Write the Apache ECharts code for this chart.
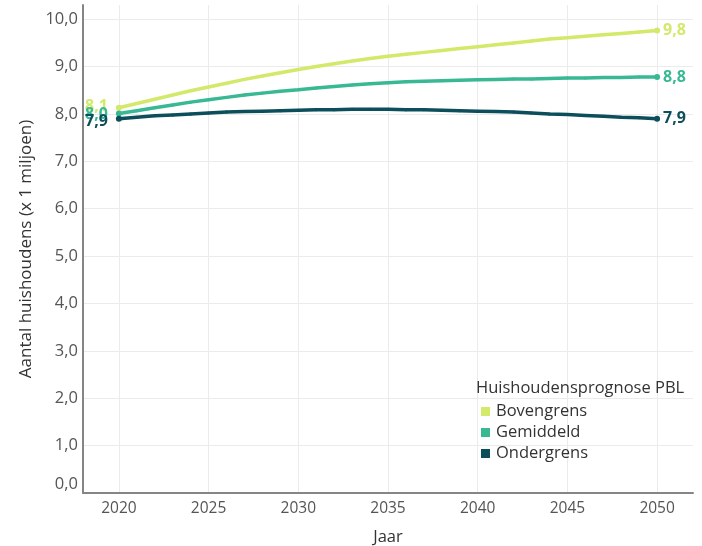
<!DOCTYPE html>
<html>
<head>
<meta charset="utf-8">
<script src="https://cdn.jsdelivr.net/npm/echarts@6/dist/echarts.min.js"></script>
<style>
  html, body { margin: 0; padding: 0; background: #fff; }
  #chart { width: 702px; height: 546px; }
</style>
</head>
<body>
<div id="chart"></div>
<script>
// Huishoudensprognose PBL, aantal huishoudens (x 1 miljoen) per jaar
const years = [2020, 2021, 2022, 2023, 2024, 2025, 2026, 2027, 2028, 2029, 2030,
               2031, 2032, 2033, 2034, 2035, 2036, 2037, 2038, 2039, 2040,
               2041, 2042, 2043, 2044, 2045, 2046, 2047, 2048, 2049, 2050];

const bovengrens = [8.13, 8.22, 8.31, 8.40, 8.49, 8.57, 8.65, 8.73, 8.80, 8.87, 8.94,
                    9.00, 9.06, 9.12, 9.17, 9.22, 9.26, 9.30, 9.34, 9.38, 9.42,
                    9.46, 9.50, 9.54, 9.58, 9.61, 9.64, 9.67, 9.70, 9.73, 9.76];

const gemiddeld = [8.01, 8.07, 8.13, 8.19, 8.25, 8.30, 8.35, 8.40, 8.44, 8.48, 8.51,
                   8.55, 8.58, 8.61, 8.64, 8.66, 8.68, 8.69, 8.70, 8.71, 8.72,
                   8.73, 8.74, 8.74, 8.75, 8.76, 8.76, 8.77, 8.77, 8.78, 8.78];

const ondergrens = [7.90, 7.93, 7.96, 7.98, 8.00, 8.02, 8.04, 8.05, 8.06, 8.07, 8.08,
                    8.09, 8.09, 8.10, 8.10, 8.10, 8.09, 8.09, 8.08, 8.07, 8.06,
                    8.05, 8.04, 8.02, 8.00, 7.99, 7.97, 7.95, 7.93, 7.92, 7.90];

const seriesNames = ['Bovengrens', 'Gemiddeld', 'Ondergrens'];
const xTicks = [2020, 2025, 2030, 2035, 2040, 2045, 2050];
const yTicks = [0, 1, 2, 3, 4, 5, 6, 7, 8, 9, 10];

const colors = ['#d2e96a', '#38b994', '#0d4e5b'];
const startOffsets = [-1, 1, 3];
const FONT = '"Open Sans", "Noto Sans", sans-serif';

const fmt = v => v.toFixed(1).replace('.', ',');

function buildData(values, idx) {
  const last = years.length - 1;
  return years.map((y, i) => {
    const item = { value: [y, values[i]] };
    if (i === 0 || i === last) {
      item.symbolSize = 6;
      item.label = {
        show: true,
        position: i === 0 ? 'left' : 'right',
        distance: i === 0 ? 8 : 3,
        offset: i === 0 ? [0, startOffsets[idx]] : [0, 0],
        formatter: p => fmt(p.value[1]),
        color: colors[idx],
        fontFamily: FONT,
        fontSize: 16,
        fontWeight: 'bold'
      };
    }
    return item;
  });
}

const seriesValues = [bovengrens, gemiddeld, ondergrens];

const chart = echarts.init(document.getElementById('chart'), null, { renderer: 'canvas' });

chart.setOption({
  animation: false,
  backgroundColor: '#ffffff',
  textStyle: { fontFamily: FONT },
  title: {
    text: 'Huishoudensprognose PBL',
    left: 476,
    top: 380,
    padding: 0,
    textStyle: { fontFamily: FONT, fontSize: 16.5, fontWeight: 'normal', color: '#333333' }
  },
  legend: {
    orient: 'vertical',
    left: 481,
    top: 403,
    padding: 0,
    itemWidth: 9,
    itemHeight: 9,
    itemGap: 4,
    icon: 'rect',
    data: seriesNames,
    textStyle: { fontFamily: FONT, fontSize: 16.5, color: '#333333', padding: [0, 0, 0, 1] }
  },
  grid: { left: 83, right: 9, top: 5, bottom: 53, containLabel: false, outerBoundsMode: 'none' },
  xAxis: {
    type: 'value',
    min: 2018,
    max: 2052,
    name: 'Jaar',
    nameLocation: 'middle',
    nameGap: 36,
    nameTextStyle: { fontFamily: FONT, fontSize: 16.5, color: '#333333' },
    axisLine: { show: true, lineStyle: { color: '#858585', width: 2 } },
    axisTick: { show: false, customValues: xTicks },
    axisLabel: {
      customValues: xTicks,
      formatter: v => String(v),
      fontFamily: FONT, fontSize: 15.5, color: '#555555', margin: 8
    },
    splitLine: { show: true, lineStyle: { color: '#ebebeb', width: 1 } }
  },
  yAxis: {
    type: 'value',
    min: 0,
    max: 10.3,
    name: 'Aantal huishoudens (x 1 miljoen)',
    nameLocation: 'middle',
    nameGap: 47,
    nameTextStyle: { fontFamily: FONT, fontSize: 17, color: '#333333' },
    axisLine: { show: true, lineStyle: { color: '#858585', width: 2 } },
    axisTick: { show: false, customValues: yTicks },
    axisLabel: {
      customValues: yTicks,
      formatter: v => (v === 0 ? '{z|' + fmt(v) + '}' : fmt(v)),
      rich: { z: { fontFamily: FONT, fontSize: 16.5, color: '#555555', padding: [0, 0, 18, 0] } },
      fontFamily: FONT, fontSize: 16.5, color: '#555555', margin: 5
    },
    splitLine: { show: true, lineStyle: { color: '#ebebeb', width: 1 } }
  },
  series: seriesValues.map((vals, idx) => ({
    name: seriesNames[idx],
    type: 'line',
    data: buildData(vals, idx),
    color: colors[idx],
    showSymbol: true,
    symbol: 'circle',
    symbolSize: 3,
    lineStyle: { width: 3.5, color: colors[idx] },
    itemStyle: { color: colors[idx] },
    z: 3 + idx
  }))
});
</script>
</body>
</html>
